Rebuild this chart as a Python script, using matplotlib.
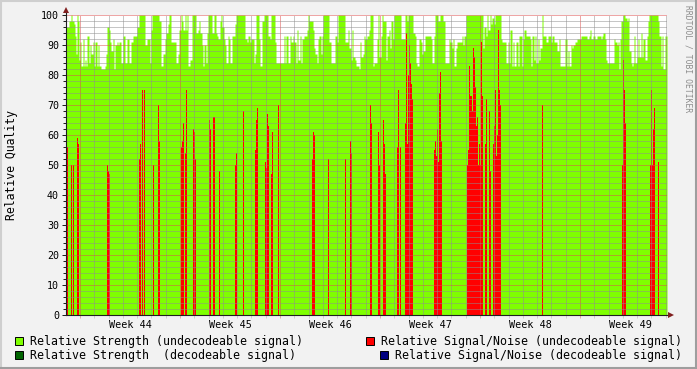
import numpy as np
import matplotlib
matplotlib.use('Agg')
import matplotlib.pyplot as plt
from matplotlib.patches import Rectangle
from matplotlib.lines import Line2D

# rrd rows, one per pixel column, 0.07 days each; row 14 is monday of week 44
STEP = 0.07
T0 = -0.98
N_ROWS = 601

# Relative Strength (undecodeable signal), step breakpoints (row, value)
strength_row = [0, 3, 5, 6, 8, 9, 10, 11, 12, 13, 14, 15, 17, 18, 19, 20, 21, 23, 24, 25,
                27, 28, 29, 31, 32, 33, 35, 39, 40, 41, 43, 44, 45, 47, 48, 49, 51, 52, 53, 55,
                57, 59, 61, 63, 65, 67, 71, 73, 79, 81, 84, 85, 86, 93, 95, 97, 99, 100, 102, 103,
                105, 110, 112, 113, 115, 116, 117, 119, 120, 121, 122, 124, 126, 130, 132, 133, 134, 136, 137, 138,
                140, 141, 142, 146, 148, 150, 151, 152, 154, 155, 156, 158, 159, 160, 162, 163, 164, 166, 169, 170,
                179, 181, 182, 184, 185, 188, 189, 190, 193, 194, 196, 198, 202, 204, 205, 209, 210, 218, 219, 220,
                222, 224, 225, 227, 228, 230, 231, 232, 234, 235, 236, 238, 241, 242, 243, 247, 248, 249, 251, 252,
                253, 255, 256, 257, 263, 265, 267, 269, 271, 272, 279, 281, 282, 283, 285, 286, 287, 289, 290, 293,
                294, 295, 297, 298, 299, 301, 303, 304, 307, 308, 311, 312, 313, 315, 316, 317, 320, 321, 323, 324,
                325, 327, 328, 335, 339, 341, 342, 347, 349, 350, 351, 353, 355, 356, 357, 359, 365, 366, 368, 369,
                372, 374, 377, 379, 383, 384, 386, 387, 388, 390, 391, 396, 397, 398, 400, 417, 418, 420, 421, 422,
                424, 425, 426, 428, 429, 435, 436, 440, 442, 443, 444, 446, 447, 448, 450, 452, 453, 456, 457, 458,
                460, 464, 465, 466, 468, 469, 470, 472, 473, 474, 476, 477, 480, 482, 485, 486, 488, 491, 493, 494,
                499, 501, 502, 503, 505, 506, 507, 509, 511, 515, 521, 523, 524, 525, 527, 529, 531, 535, 536, 537,
                539, 540, 541, 548, 549, 551, 552, 553, 554, 555, 557, 559, 561, 562, 563, 565, 566, 567, 568, 569,
                571, 572, 573, 575, 576, 577, 579, 581, 582, 583, 592, 593, 595, 596, 597, 599]
strength_val = [96, 98, 100, 98, 97, 93, 87, 100, 98, 85, 91, 83, 92, 83, 85, 83, 93, 84, 90, 87,
                91, 83, 91, 83, 90, 83, 82, 83, 87, 96, 95, 91, 88, 92, 82, 90, 91, 90, 91, 84,
                93, 84, 92, 84, 91, 93, 96, 100, 90, 92, 84, 95, 100, 98, 83, 87, 92, 94, 97, 100,
                91, 84, 87, 95, 100, 98, 95, 100, 95, 100, 83, 85, 100, 94, 95, 98, 94, 90, 83, 90,
                84, 94, 100, 94, 100, 94, 93, 92, 98, 100, 96, 92, 90, 84, 93, 92, 84, 93, 97, 100,
                92, 91, 93, 91, 92, 84, 87, 100, 92, 83, 98, 100, 93, 92, 100, 91, 84, 93, 84, 93,
                84, 93, 91, 93, 91, 84, 95, 85, 93, 84, 92, 93, 95, 100, 98, 95, 89, 87, 84, 92,
                93, 87, 93, 100, 91, 84, 84, 93, 91, 100, 91, 91, 95, 89, 85, 95, 86, 85, 83, 82,
                91, 86, 87, 93, 92, 93, 95, 100, 83, 84, 92, 100, 86, 93, 100, 98, 85, 93, 95, 89,
                98, 92, 100, 92, 100, 98, 100, 94, 93, 84, 83, 92, 91, 87, 88, 93, 92, 84, 93, 100,
                98, 100, 98, 84, 92, 91, 89, 92, 83, 89, 91, 93, 90, 93, 100, 89, 96, 93, 100, 95,
                100, 97, 99, 97, 100, 92, 91, 84, 91, 84, 95, 83, 91, 83, 91, 83, 93, 83, 92, 95,
                93, 92, 83, 93, 85, 93, 84, 92, 85, 89, 100, 93, 91, 93, 91, 93, 91, 88, 92, 83,
                92, 83, 88, 83, 90, 89, 90, 91, 92, 93, 92, 93, 95, 92, 93, 92, 93, 92, 93, 94,
                92, 85, 84, 92, 91, 90, 91, 82, 92, 98, 100, 99, 98, 99, 88, 84, 83, 84, 93, 84,
                86, 92, 86, 94, 86, 92, 85, 93, 98, 100, 98, 93, 83, 93, 82, 93]

# Relative Signal/Noise (undecodeable signal), rows with a value
snr_row = [1, 5, 7, 11, 12, 41, 42, 43, 73, 74, 76, 78, 87, 92, 93, 115, 116, 117, 119, 120,
           127, 128, 129, 143, 144, 147, 148, 153, 169, 170, 177, 189, 190, 191, 199, 200, 201, 202, 205, 206,
           212, 246, 247, 248, 262, 279, 284, 285, 304, 305, 312, 313, 317, 318, 319, 331, 332, 334, 339, 340,
           341, 342, 343, 344, 345, 346, 368, 369, 370, 371, 372, 373, 374, 375, 401, 402, 403, 404, 405, 406,
           407, 408, 409, 410, 411, 412, 413, 414, 415, 416, 419, 420, 423, 424, 427, 428, 429, 430, 431, 432,
           433, 434, 476, 556, 557, 558, 559, 584, 585, 586, 587, 588, 592]
snr_val = [56, 50, 50, 59, 57, 50, 48, 47, 52, 57, 75, 75, 50, 70, 58, 56, 58, 64, 54, 75,
           62, 61, 52, 65, 62, 66, 66, 48, 50, 54, 68, 55, 65, 69, 51, 49, 67, 63, 47, 61,
           70, 52, 61, 60, 52, 52, 58, 54, 70, 64, 61, 50, 65, 57, 47, 56, 75, 56, 64, 94,
           57, 80, 90, 84, 77, 72, 55, 58, 53, 62, 51, 74, 81, 58, 50, 55, 83, 73, 73, 68,
           89, 86, 76, 63, 66, 50, 57, 50, 91, 73, 57, 72, 68, 48, 57, 63, 75, 53, 60, 95,
           75, 70, 70, 50, 85, 75, 64, 50, 75, 50, 62, 69, 51]

weeks = [44, 45, 46, 47, 48, 49]

legend_labels = ["Relative Strength (undecodeable signal)",
                 "Relative Signal/Noise (undecodeable signal)",
                 "Relative Strength  (decodeable signal)",
                 "Relative Signal/Noise (decodeable signal)"]
legend_colors = ["#7FFF00", "#FF0000", "#006400", "#000080"]

W, H = 697, 369
MONO = "DejaVu Sans Mono"
BACK = (0.95, 0.95, 0.95)
GRID = (0.56, 0.56, 0.56, 0.35)
MGRID = (0.87, 0.31, 0.31, 0.45)
ARROW = (0.5, 0.12, 0.12)
AXIS = (0.12, 0.12, 0.12)


def fx(x):
    return x / W


def fy(y):
    return 1 - y / H


fig = plt.figure(figsize=(W / 100, H / 100), dpi=100, facecolor=BACK)

# shaded frame
fig.add_artist(Line2D([0, 1], [fy(1), fy(1)], color="#CFCFCF", lw=1.5))
fig.add_artist(Line2D([fx(1), fx(1)], [0, 1], color="#CFCFCF", lw=1.5))
fig.add_artist(Line2D([0, 1], [fy(H - 1), fy(H - 1)], color="#9E9E9E", lw=1.5))
fig.add_artist(Line2D([fx(W - 1), fx(W - 1)], [0, 1], color="#9E9E9E", lw=1.5))

ax = fig.add_axes([fx(66), fy(315), 601 / W, 300 / H])
ax.set_facecolor("white")

t_start = T0
t_end = T0 + N_ROWS * STEP

st = T0 + np.array(strength_row + [N_ROWS]) * STEP
sv = np.array(strength_val + [strength_val[-1]], dtype=float)
ax.fill_between(st, sv, 0, step="post", color=legend_colors[0], lw=0, zorder=1)

rt = T0 + np.array(snr_row) * STEP
ax.bar(rt, snr_val, width=STEP, align="edge", color=legend_colors[1], lw=0,
       antialiased=False, zorder=1.2)

ax.set_xlim(t_start, t_end)
ax.set_ylim(0, 100)

ax.set_yticks(range(0, 101, 10))
ax.set_yticks(range(0, 101, 2), minor=True)
ax.set_xticks(np.arange(0, 42, 7))
ax.set_xticks(np.arange(-0, 42, 1), minor=True)
ax.set_xticklabels([])
ax.set_axisbelow(False)
dash = (0, (1, 1))
ax.grid(which="major", color=MGRID, linestyle=dash, lw=0.72, zorder=3)
ax.grid(which="minor", color=GRID, linestyle=dash, lw=0.72, zorder=3)

for s in ax.spines.values():
    s.set_visible(False)

ax.tick_params(axis="y", which="major", length=3, width=0.72, color=AXIS, pad=2,
               labelsize=7.2, labelfontfamily=MONO)
ax.tick_params(axis="y", which="minor", length=2, width=0.72, color=AXIS)
ax.tick_params(axis="x", which="major", length=2.5, width=0.72, color=MGRID)
ax.tick_params(axis="x", which="minor", length=2, width=0.72, color=GRID)

# axes with arrows
fig.add_artist(Line2D([fx(66), fx(670)], [fy(315), fy(315)], color=AXIS, lw=0.8))
fig.add_artist(Line2D([fx(66), fx(66)], [fy(315), fy(11)], color=AXIS, lw=0.8))
fig.add_artist(Line2D([fx(671)], [fy(315)], marker=">", ms=4, color=ARROW, mew=0))
fig.add_artist(Line2D([fx(66)], [fy(10)], marker="^", ms=4, color=ARROW, mew=0))

for i, wk in enumerate(weeks):
    fig.text(fx(130 + 100 * i), fy(325), "Week %d" % wk, ha="center", va="center",
             fontsize=7.3, family=MONO)

fig.text(fx(12), fy(165), "Relative Quality", rotation=90, ha="center", va="center",
         fontsize=8.3, family=MONO)

fig.text(fx(688), fy(5), "RRDTOOL / TOBI OETIKER", rotation=270, ha="center", va="top",
         fontsize=5.8, family=MONO, color=(0.55, 0.55, 0.55))

# legend, rrd style two-column layout
legend_pos = [(15, 341), (366, 341), (15, 355), (380, 355)]
for (lx, ly), lab, col in zip(legend_pos, legend_labels, legend_colors):
    fig.add_artist(Rectangle((fx(lx), fy(ly + 4)), 8 / W, 8 / H, transform=fig.transFigure,
                             facecolor=col, edgecolor="black", lw=0.7))
    fig.text(fx(lx + 15), fy(ly), lab, ha="left", va="center", fontsize=8.37, family=MONO)

fig.savefig("out.png", dpi=100, facecolor=BACK)
